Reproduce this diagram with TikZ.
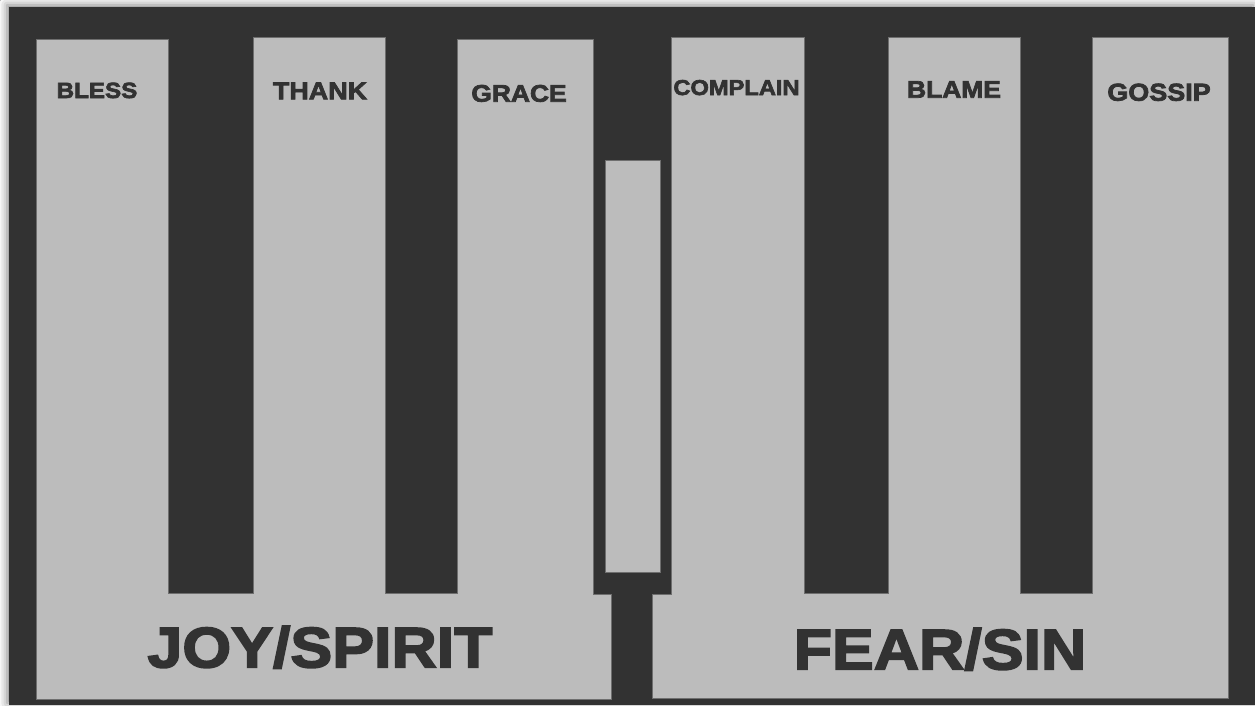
\documentclass[tikz,border=0pt]{standalone}
\usepackage{fontspec}
\newfontface\heavyfont{Liberation Sans Bold}[FakeStretch=1.1, FakeBold=3]
\usetikzlibrary{shadows.blur}
\definecolor{darkbg}{HTML}{323232}
\definecolor{lightbar}{HTML}{BCBCBC}
\definecolor{barline}{HTML}{6E6E6E}

\begin{document}
\begin{tikzpicture}[x=1pt, y=-1pt,
  % Shape Styles
  panel/.style={fill=lightbar, draw=barline, line width=0.8pt},
  % Label Styles
  word/.style={anchor=base, inner sep=0pt, text=darkbg, font=\heavyfont\fontsize{#1}{#1}\selectfont},
  word/.default=23,
]

\useasboundingbox (0,0) rectangle (1255,705);
\fill[white] (0,0) rectangle (1255,705);
\fill[darkbg, blur shadow={shadow xshift=-2pt, shadow yshift=2pt, shadow blur radius=8pt, shadow opacity=50}] (9,7) rectangle (1255,705);

% left comb
\path[panel] (36,699) -- (36,39) -- (168,39) -- (168,593) -- (253,593) -- (253,37) -- (385,37) -- (385,593) -- (457,593) -- (457,39) -- (593,39) -- (593,594) -- (611,594) -- (611,699) -- cycle;
% right comb
\path[panel] (652,698) -- (652,594) -- (671,594) -- (671,37) -- (804,37) -- (804,593) -- (888,593) -- (888,37) -- (1020,37) -- (1020,593) -- (1092,593) -- (1092,37) -- (1228,37) -- (1228,698) -- cycle;
% middle bar
\path[panel] (605,160) rectangle (660,572);

\node[word=22] (BLESS) at (97,98) {BLESS};
\node[word=24.5] (THANK) at (320,99.3) {THANK};
\node[word=24] (GRACE) at (519,101.7) {GRACE};
\node[word=21.5] (COMPLAIN) at (736.5,95) {COMPLAIN};
\node[word=24] (BLAME) at (954,97.7) {BLAME};
\node[word=24.5] (GOSSIP) at (1159,100.7) {GOSSIP};

\node[word=57] (JOY_SPIRIT) at (320,667.3) {JOY/SPIRIT};
\node[word=57] (FEAR_SIN) at (940,669.3) {FEAR/SIN};

\end{tikzpicture}
\end{document}
